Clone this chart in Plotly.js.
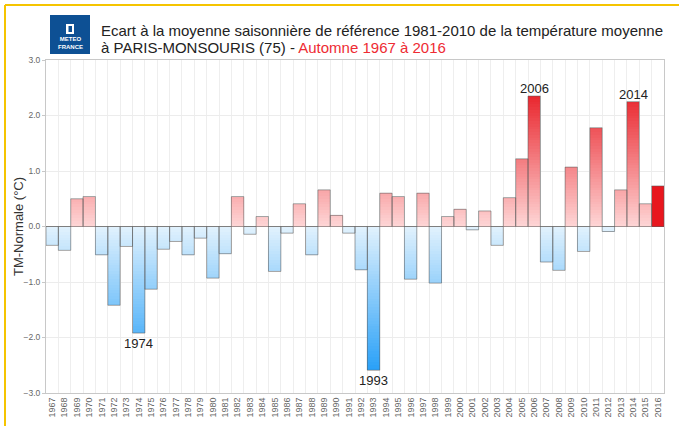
<!DOCTYPE html>
<html>
<head>
<meta charset="utf-8">
<script src="https://cdn.plot.ly/plotly-3.0.1.min.js"></script>
<style>
  html, body { margin: 0; padding: 0; background: #fff; }
  #chart { width: 679px; height: 426px; }
</style>
</head>
<body>
<div id="chart"></div>
<script>
// ---- Data ----
const years = [1967,1968,1969,1970,1971,1972,1973,1974,1975,1976,1977,1978,1979,1980,1981,1982,1983,1984,1985,1986,1987,1988,1989,1990,1991,1992,1993,1994,1995,1996,1997,1998,1999,2000,2001,2002,2003,2004,2005,2006,2007,2008,2009,2010,2011,2012,2013,2014,2015,2016];
const anomalies = [-0.34,-0.43,0.50,0.54,-0.51,-1.42,-0.36,-1.92,-1.13,-0.41,-0.27,-0.51,-0.21,-0.93,-0.49,0.54,-0.14,0.18,-0.81,-0.12,0.41,-0.51,0.66,0.20,-0.12,-0.78,-2.59,0.60,0.54,-0.95,0.60,-1.02,0.18,0.31,-0.06,0.28,-0.34,0.52,1.22,2.35,-0.64,-0.79,1.07,-0.45,1.78,-0.09,0.66,2.25,0.41,0.73];
const labelledYears = [1974, 1993, 2006, 2014];
const currentYear = 2016;
const yTickVals = [-3, -2, -1, 0, 1, 2, 3];
const titleLine1 = "Ecart à la moyenne saisonnière de référence 1981-2010 de la température moyenne";
const titleLine2a = "à PARIS-MONSOURIS (75) - ";
const titleLine2b = "Automne 1967 à 2016";
const yTitle = "TM-Normale (°C)";

// ---- Styling helpers ----
const W = 679, H = 426;
const M = { l: 46, r: 15, t: 60, b: 33 };
const pw = W - M.l - M.r, ph = H - M.t - M.b;
const px2x = px => (px - M.l) / pw;
const px2y = py => (H - M.b - py) / ph;

const posLo = [254, 214, 214], posHi = [232, 28, 36], posMax = 2.5;
const negLo = [226, 242, 253], negHi = [40, 160, 248], negMax = 2.6;
function colorAt(v) {
  const lo = v >= 0 ? posLo : negLo, hi = v >= 0 ? posHi : negHi;
  const f = Math.min(1, Math.abs(v) / (v >= 0 ? posMax : negMax));
  const c = lo.map((a, i) => Math.round(a + (hi[i] - a) * f));
  return `rgb(${c[0]},${c[1]},${c[2]})`;
}

// ---- Gradient bars built as stacked slices ----
const step = 0.05;
const maxAbs = Math.max(...anomalies.map(Math.abs));
const nSeg = Math.ceil(maxAbs / step);
const traces = [];
for (let k = 0; k < nSeg; k++) {
  const base = [], y = [], col = [];
  anomalies.forEach((v, i) => {
    const a = Math.abs(v), s = v >= 0 ? 1 : -1;
    if (years[i] === currentYear || a <= k * step) {
      base.push(0); y.push(null); col.push('rgba(0,0,0,0)');
    } else {
      const h = Math.min(step, a - k * step);
      base.push(s * k * step); y.push(s * h);
      col.push(colorAt(s * (k + 0.5) * step));
    }
  });
  traces.push({
    type: 'bar', x: years, y: y, base: base, width: 1,
    marker: { color: col, line: { width: 0 } },
    hoverinfo: 'skip', showlegend: false
  });
}
// current year: solid red
traces.push({
  type: 'bar', x: years,
  y: anomalies.map((v, i) => years[i] === currentYear ? v : null),
  width: 1, marker: { color: '#e8161e', line: { width: 0 } },
  hoverinfo: 'skip', showlegend: false
});
// outline
traces.push({
  type: 'bar', x: years, y: anomalies, width: 1,
  marker: { color: 'rgba(0,0,0,0)', line: { color: 'rgba(90,90,90,0.55)', width: 1 } },
  hovertemplate: '%{x}: %{y:.2f}<extra></extra>', showlegend: false
});

const font = 'Liberation Sans, Arial, sans-serif';

// ---- Annotations ----
const annotations = labelledYears.map(yr => {
  const v = anomalies[years.indexOf(yr)];
  return {
    x: yr, y: v, xref: 'x', yref: 'y', text: String(yr), showarrow: false,
    yanchor: v >= 0 ? 'bottom' : 'top', yshift: v >= 0 ? -2 : -1,
    font: { family: font, size: 13, color: '#222' }
  };
});
// title lines
annotations.push({
  xref: 'paper', yref: 'paper', x: px2x(99), y: px2y(30), xanchor: 'left', yanchor: 'middle',
  text: titleLine1, showarrow: false, font: { family: font, size: 15, color: '#222' }
});
annotations.push({
  xref: 'paper', yref: 'paper', x: px2x(99), y: px2y(47), xanchor: 'left', yanchor: 'middle',
  text: titleLine2a + '<span style="color:#ee2b33">' + titleLine2b + '</span>', showarrow: false,
  font: { family: font, size: 15, color: '#222' }
});
// y axis title
annotations.push({
  xref: 'paper', yref: 'paper', x: px2x(18), y: px2y(227), xanchor: 'center', yanchor: 'middle',
  text: yTitle, textangle: -90, showarrow: false, font: { family: font, size: 13, color: '#333' }
});
// logo text
annotations.push({
  xref: 'paper', yref: 'paper', x: px2x(70), y: px2y(43), text: '<b>METEO<br>FRANCE</b>',
  showarrow: false, xanchor: 'center', yanchor: 'middle',
  font: { family: font, size: 6, color: '#fff' }
});

const shapes = [
  // yellow frame
  { type: 'line', xref: 'paper', yref: 'paper', x0: px2x(5), x1: px2x(5), y0: px2y(5), y1: px2y(426), line: { color: '#f5c400', width: 2 } },
  { type: 'line', xref: 'paper', yref: 'paper', x0: px2x(5), x1: px2x(679), y0: px2y(5), y1: px2y(5), line: { color: '#f5c400', width: 2 } },
  // logo block
  { type: 'rect', xref: 'paper', yref: 'paper', x0: px2x(50), x1: px2x(90), y0: px2y(54), y1: px2y(15), fillcolor: '#0d5094', line: { width: 0 } },
  { type: 'rect', xref: 'paper', yref: 'paper', x0: px2x(66), x1: px2x(74), y0: px2y(34), y1: px2y(24), fillcolor: '#ffffff', line: { width: 0 } },
  { type: 'rect', xref: 'paper', yref: 'paper', x0: px2x(68.5), x1: px2x(72), y0: px2y(32), y1: px2y(26), fillcolor: '#0d5094', line: { width: 0 } }
];

const layout = {
  width: W, height: H,
  margin: M,
  paper_bgcolor: '#fff', plot_bgcolor: '#fff',
  barmode: 'overlay', bargap: 0,
  showlegend: false,
  font: { family: font, color: '#333' },
  xaxis: {
    type: 'linear', range: [1966.5, 2016.5],
    tickvals: years, ticktext: years.map(String), tickangle: -90,
    tickfont: { family: font, size: 9, color: '#666' },
    showgrid: false, zeroline: false,
    showline: true, mirror: true, linecolor: '#c8c8c8', linewidth: 1,
    ticks: '',
    minor: { tickvals: years.map(y => y + 0.5), showgrid: true, gridcolor: '#eeeeee', gridwidth: 1, ticks: '' },
    fixedrange: true
  },
  yaxis: {
    range: [-3, 3], tickvals: yTickVals, tickformat: '.1f',
    tickfont: { family: font, size: 8.5, color: '#666' },
    ticks: 'outside', ticklen: 3, tickcolor: '#c8c8c8',
    showgrid: true, gridcolor: '#ececec', gridwidth: 1,
    zeroline: true, zerolinecolor: '#aaaaaa', zerolinewidth: 1,
    showline: true, mirror: true, linecolor: '#c8c8c8', linewidth: 1,
    fixedrange: true
  },
  annotations: annotations,
  shapes: shapes
};

Plotly.newPlot('chart', traces, layout, { displayModeBar: false, staticPlot: true });
</script>
</body>
</html>
